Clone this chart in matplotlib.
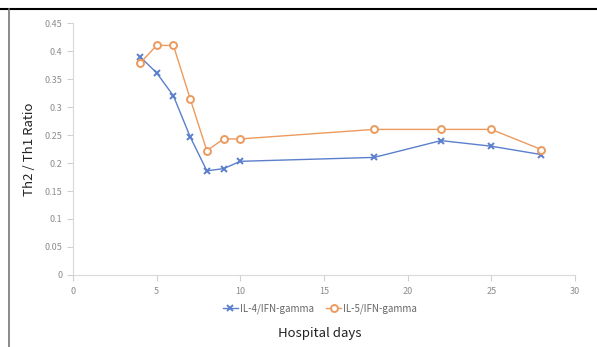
import numpy as np
import matplotlib
matplotlib.use('Agg')
import matplotlib.pyplot as plt
from matplotlib.lines import Line2D

plt.rcParams['font.family'] = ['Noto Sans CJK KR', 'DejaVu Sans']

days = [4, 5, 6, 7, 8, 9, 10, 18, 22, 25, 28]
il4 = [0.390, 0.361, 0.320, 0.247, 0.186, 0.190, 0.203, 0.210, 0.240, 0.230, 0.215]
il5 = [0.378, 0.410, 0.410, 0.315, 0.222, 0.243, 0.243, 0.260, 0.260, 0.260, 0.224]
labels = ['IL-4/IFN-gamma', 'IL-5/IFN-gamma']
xticks = [0, 5, 10, 15, 20, 25, 30]
yticks = [0, 0.05, 0.1, 0.15, 0.2, 0.25, 0.3, 0.35, 0.4, 0.45]
ytick_labels = ['0', '0.05', '0.1', '0.15', '0.2', '0.25', '0.3', '0.35', '0.4', '0.45']

blue = '#5b7fcc'
orange = '#ec9a5e'
grey = '#8c8c8c'

fig = plt.figure(figsize=(5.97, 3.47), dpi=100)
ax = fig.add_axes([0.1223, 0.2075, 0.8407, 0.7262])

ax.plot(days, il4, color=blue, lw=1.0, marker='x', ms=5, mew=1.4, label=labels[0])
ax.plot(days, il5, color=orange, lw=1.0, marker='o', ms=5, mfc='white', mew=1.4, label=labels[1])

ax.set_xlim(0, 30)
ax.set_ylim(0, 0.45)
ax.set_xticks(xticks)
ax.set_yticks(yticks)
ax.set_yticklabels(ytick_labels)
ax.tick_params(colors='#d0d0d0', labelcolor=grey, labelsize=6.5, length=4, width=0.8)
ax.tick_params(axis='x', pad=5)
for s in ['top', 'right']:
    ax.spines[s].set_visible(False)
for s in ['left', 'bottom']:
    ax.spines[s].set_color('#d9d9d9')
    ax.spines[s].set_linewidth(0.8)

ax.set_ylabel('Th2 / Th1 Ratio', fontsize=9.5, color='#222222', labelpad=6)
fig.text(0.536, 0.04, 'Hospital days', ha='center', va='center', fontsize=9.5, color='#222222')

handles = [Line2D([], [], color=blue, lw=1.0, marker='x', ms=5, mew=1.4),
           Line2D([], [], color=orange, lw=1.0, marker='o', ms=5, mfc='white', mew=1.4)]
leg = fig.legend(handles, labels, loc='center', bbox_to_anchor=(0.536, 0.11), ncol=2,
                 frameon=False, fontsize=7, handlelength=1.6, handletextpad=0.2,
                 columnspacing=1.2)
for t in leg.get_texts():
    t.set_color('#666666')

# outer frame lines of the original image
fig.add_artist(Line2D([0, 1], [1 - 8.5 / 347] * 2, transform=fig.transFigure, color='black', lw=1.5))
fig.add_artist(Line2D([8.5 / 597] * 2, [0, 1 - 8.5 / 347], transform=fig.transFigure, color='#777777', lw=1.2))

fig.savefig('out.png', dpi=100)
